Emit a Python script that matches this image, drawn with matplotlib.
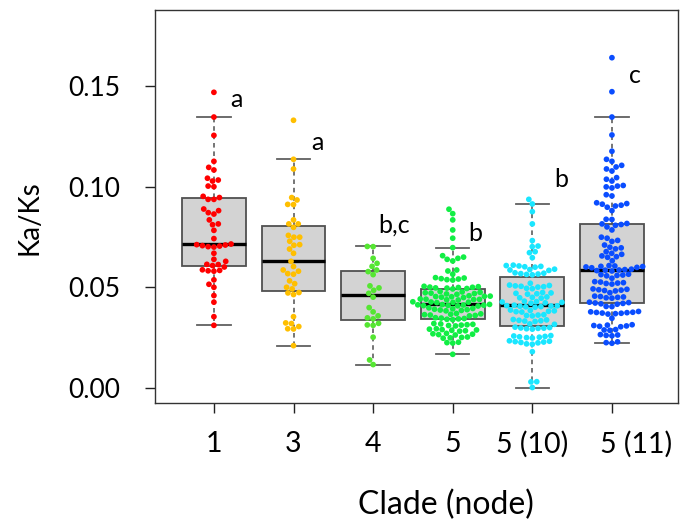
import numpy as np
import matplotlib
matplotlib.use("Agg")
import matplotlib.pyplot as plt
import matplotlib.transforms as mtransforms

plt.rcParams['font.family'] = ['Lato', 'DejaVu Sans']

categories = ["1", "3", "4", "5", "5 (10)", "5 (11)"]
colors = ["#FF0000", "#FFBF00", "#55E632", "#11EE44", "#1AE6FF", "#0A4DFF"]
letters = ["a", "a", "b,c", "b", "b", "c"]

clade_1 = [0.1469, 0.1346, 0.1255, 0.1126, 0.1096, 0.1083, 0.1042, 0.1033, 0.1028,
           0.1000, 0.1003, 0.0946, 0.0937, 0.0937, 0.0952, 0.0889, 0.0881, 0.0871,
           0.0864, 0.0835, 0.0815, 0.0811, 0.0783, 0.0742, 0.0715, 0.0712, 0.0710,
           0.0707, 0.0705, 0.0702, 0.0700, 0.0669, 0.0639, 0.0629, 0.0614, 0.0613,
           0.0608, 0.0601, 0.0587, 0.0584, 0.0582, 0.0580, 0.0537, 0.0515, 0.0500,
           0.0459, 0.0426, 0.0354, 0.0311]

clade_3 = [0.1330, 0.1136, 0.1088, 0.0946, 0.0934, 0.0911, 0.0912, 0.0835, 0.0815,
           0.0815, 0.0798, 0.0758, 0.0749, 0.0749, 0.0729, 0.0712, 0.0709, 0.0690,
           0.0669, 0.0629, 0.0603, 0.0586, 0.0580, 0.0565, 0.0568, 0.0532, 0.0518,
           0.0500, 0.0492, 0.0474, 0.0464, 0.0472, 0.0354, 0.0323, 0.0305, 0.0293,
           0.0294, 0.0320, 0.0210]

clade_4 = [0.0702, 0.0703, 0.0644, 0.0619, 0.0604, 0.0586, 0.0578, 0.0563, 0.0507,
           0.0497, 0.0485, 0.0470, 0.0451, 0.0399, 0.0378, 0.0358, 0.0348, 0.0343,
           0.0321, 0.0313, 0.0311, 0.0252, 0.0139, 0.0116]

clade_5 = [0.0888, 0.0866, 0.0835, 0.0785, 0.0744, 0.0697,
           0.0657, 0.0650, 0.0644, 0.0639, 0.0631,
           0.0586, 0.0581, 0.0565,
           0.0548, 0.0546, 0.0543, 0.0541, 0.0538, 0.0536,
           0.0505, 0.0503, 0.0501, 0.0500, 0.0499, 0.0497, 0.0496, 0.0494, 0.0492,
           0.0479, 0.0477, 0.0475, 0.0473, 0.0471, 0.0469, 0.0467, 0.0465,
           0.0458, 0.0456, 0.0455, 0.0454, 0.0453, 0.0451, 0.0449,
           0.0442, 0.0441, 0.0440, 0.0439, 0.0438, 0.0437,
           0.0428, 0.0427, 0.0426, 0.0425, 0.0424,
           0.0415, 0.0414, 0.0413, 0.0412, 0.0411, 0.0410, 0.0409, 0.0408, 0.0407,
           0.0398, 0.0395, 0.0393, 0.0391, 0.0389, 0.0387, 0.0385, 0.0383,
           0.0370, 0.0368, 0.0366, 0.0364, 0.0362, 0.0360, 0.0358,
           0.0349, 0.0347, 0.0345, 0.0343, 0.0341, 0.0339,
           0.0320, 0.0318, 0.0316, 0.0314, 0.0312, 0.0310, 0.0308,
           0.0294, 0.0292, 0.0290, 0.0288, 0.0286, 0.0284, 0.0282,
           0.0271, 0.0269, 0.0267, 0.0265, 0.0263,
           0.0253, 0.0251, 0.0249, 0.0247,
           0.0227, 0.0225, 0.0223,
           0.0167]

clade_5_10 = [0.0937, 0.0914, 0.0876, 0.0815, 0.0732, 0.0705, 0.0702, 0.0677, 0.0672,
              0.0647,
              0.0610, 0.0608, 0.0606, 0.0604, 0.0602, 0.0600,
              0.0590, 0.0588, 0.0586, 0.0584,
              0.0572, 0.0570, 0.0568, 0.0566, 0.0564, 0.0562,
              0.0520,
              0.0511, 0.0509, 0.0507, 0.0505, 0.0503, 0.0501,
              0.0495, 0.0493,
              0.0474, 0.0472, 0.0470, 0.0468, 0.0466,
              0.0452, 0.0450, 0.0448, 0.0446,
              0.0431, 0.0429, 0.0427, 0.0425, 0.0423, 0.0421,
              0.0411, 0.0409, 0.0408, 0.0407, 0.0406, 0.0404, 0.0403, 0.0401,
              0.0387, 0.0385, 0.0383, 0.0381, 0.0379, 0.0377,
              0.0364, 0.0362, 0.0360, 0.0358,
              0.0340, 0.0338, 0.0336, 0.0334, 0.0332, 0.0330,
              0.0318, 0.0316,
              0.0302, 0.0300, 0.0298, 0.0297, 0.0296, 0.0294, 0.0292,
              0.0260, 0.0258, 0.0256, 0.0254, 0.0252, 0.0250, 0.0248,
              0.0234, 0.0232, 0.0230, 0.0228, 0.0226, 0.0224,
              0.0219, 0.0217,
              0.0180, 0.0031, 0.0030, 0.0002]

clade_5_11 = [0.1641, 0.1472, 0.1346, 0.1257, 0.1176,
              0.1136, 0.1126,
              0.1106, 0.1098, 0.1088, 0.1078,
              0.1045, 0.1037, 0.1028,
              0.1006, 0.1003, 0.0999, 0.0994,
              0.0960, 0.0954,
              0.0920, 0.0916, 0.0913, 0.0908, 0.0904, 0.0898, 0.0881,
              0.0838, 0.0837,
              0.0817, 0.0815, 0.0812, 0.0808, 0.0800,
              0.0785,
              0.0749, 0.0744, 0.0733, 0.0728,
              0.0710, 0.0699, 0.0696, 0.0691,
              0.0677, 0.0669, 0.0664,
              0.0656, 0.0652, 0.0649, 0.0632,
              0.0608, 0.0606, 0.0604, 0.0603, 0.0601, 0.0599, 0.0597,
              0.0590, 0.0588, 0.0586, 0.0585, 0.0583, 0.0581,
              0.0565, 0.0563, 0.0561, 0.0559, 0.0557,
              0.0545,
              0.0528, 0.0526, 0.0523, 0.0521, 0.0519, 0.0516,
              0.0492, 0.0490, 0.0488, 0.0486, 0.0484, 0.0482,
              0.0473,
              0.0456, 0.0454, 0.0452, 0.0450, 0.0448, 0.0446,
              0.0426, 0.0424, 0.0422, 0.0420, 0.0418, 0.0416,
              0.0405, 0.0404,
              0.0380, 0.0378, 0.0376, 0.0375, 0.0374, 0.0372, 0.0371, 0.0369, 0.0367,
              0.0346,
              0.0314, 0.0312, 0.0310, 0.0308, 0.0306, 0.0304,
              0.0290, 0.0288, 0.0286,
              0.0265, 0.0263, 0.0261, 0.0259,
              0.0229, 0.0225, 0.0222]

groups = [clade_1, clade_3, clade_4, clade_5, clade_5_10, clade_5_11]

yticks = [0.00, 0.05, 0.10, 0.15]
ytick_labels = ["0.00", "0.05", "0.10", "0.15"]

W, H = 680, 523
fig = plt.figure(figsize=(W / 100, H / 100), dpi=100)
ax = fig.add_axes([155 / W, 1 - 403 / H, (678 - 155) / W, (403 - 10) / H])
xlim = (0.26, 6.83)
ylim = (-0.0075, 0.1878)
ax.set_xlim(*xlim)
ax.set_ylim(*ylim)

positions = np.arange(1, len(groups) + 1)
bp = ax.boxplot(groups, positions=positions, widths=0.8, patch_artist=True,
                showfliers=False, capwidths=0.42,
                boxprops=dict(facecolor="#D3D3D3", edgecolor="#505050", linewidth=1.3),
                medianprops=dict(color="black", linewidth=2.4),
                whiskerprops=dict(color="#505050", linewidth=1.1, linestyle=(0, (3, 2.5))),
                capprops=dict(color="#606060", linewidth=1.3),
                zorder=2)


def swarm_offsets(ypx, d):
    n = len(ypx)
    xs = np.zeros(n)
    placed = []
    for i in np.argsort(ypx, kind="stable"):
        y = ypx[i]
        near = [j for j in placed if abs(ypx[j] - y) < d]
        cands = [0.0]
        for j in near:
            dx = np.sqrt(d * d - (ypx[j] - y) ** 2)
            cands += [xs[j] + dx, xs[j] - dx]
        cands = sorted(cands, key=lambda c: (abs(c), c))
        for c in cands:
            if all((c - xs[j]) ** 2 + (y - ypx[j]) ** 2 >= d * d - 1e-6 for j in near):
                xs[i] = c
                break
        placed.append(i)
    return xs


fig.canvas.draw()
bb = ax.get_window_extent()
sx = bb.width / (xlim[1] - xlim[0])
sy = bb.height / (ylim[1] - ylim[0])
spacing_px = 5.8
for pos, vals, col in zip(positions, groups, colors):
    v = np.asarray(vals)
    off = swarm_offsets(v * sy, spacing_px)
    ax.scatter(pos + off / sx, v, s=17, color=col, edgecolors="none", zorder=3)

letter_x = [1.20, 2.22, 3.07, 4.19, 5.27, 6.22]
letter_y = [0.1396, 0.1182, 0.0770, 0.0730, 0.0998, 0.1515]
for lx, ly, t in zip(letter_x, letter_y, letters):
    ax.text(lx, ly, t, ha="left", va="baseline", fontsize=18, color="black")

ax.set_yticks(yticks)
ax.set_yticklabels(ytick_labels)
ax.set_xticks(positions)
ax.set_xticklabels(categories)
ax.tick_params(axis="y", length=7, width=1, pad=18, labelsize=19, colors="#222222", labelcolor="black")
ax.tick_params(axis="x", length=7, width=1, pad=13, labelsize=20.5, colors="#222222", labelcolor="black")
for s in ax.spines.values():
    s.set_linewidth(1.0)
    s.set_color("#333333")

# last category label sits a little to the right of its tick in the original
last = ax.get_xticklabels()[-1]
last.set_transform(last.get_transform() + mtransforms.ScaledTranslation(24 / 100, 0, fig.dpi_scale_trans))

fig.text(30 / W, 1 - 218 / H, "Ka/Ks", rotation=90, ha="center", va="center", fontsize=20)
fig.text(446 / W, 1 - 505 / H, "Clade (node)", ha="center", va="center", fontsize=23)

fig.savefig("out.png", dpi=100)
